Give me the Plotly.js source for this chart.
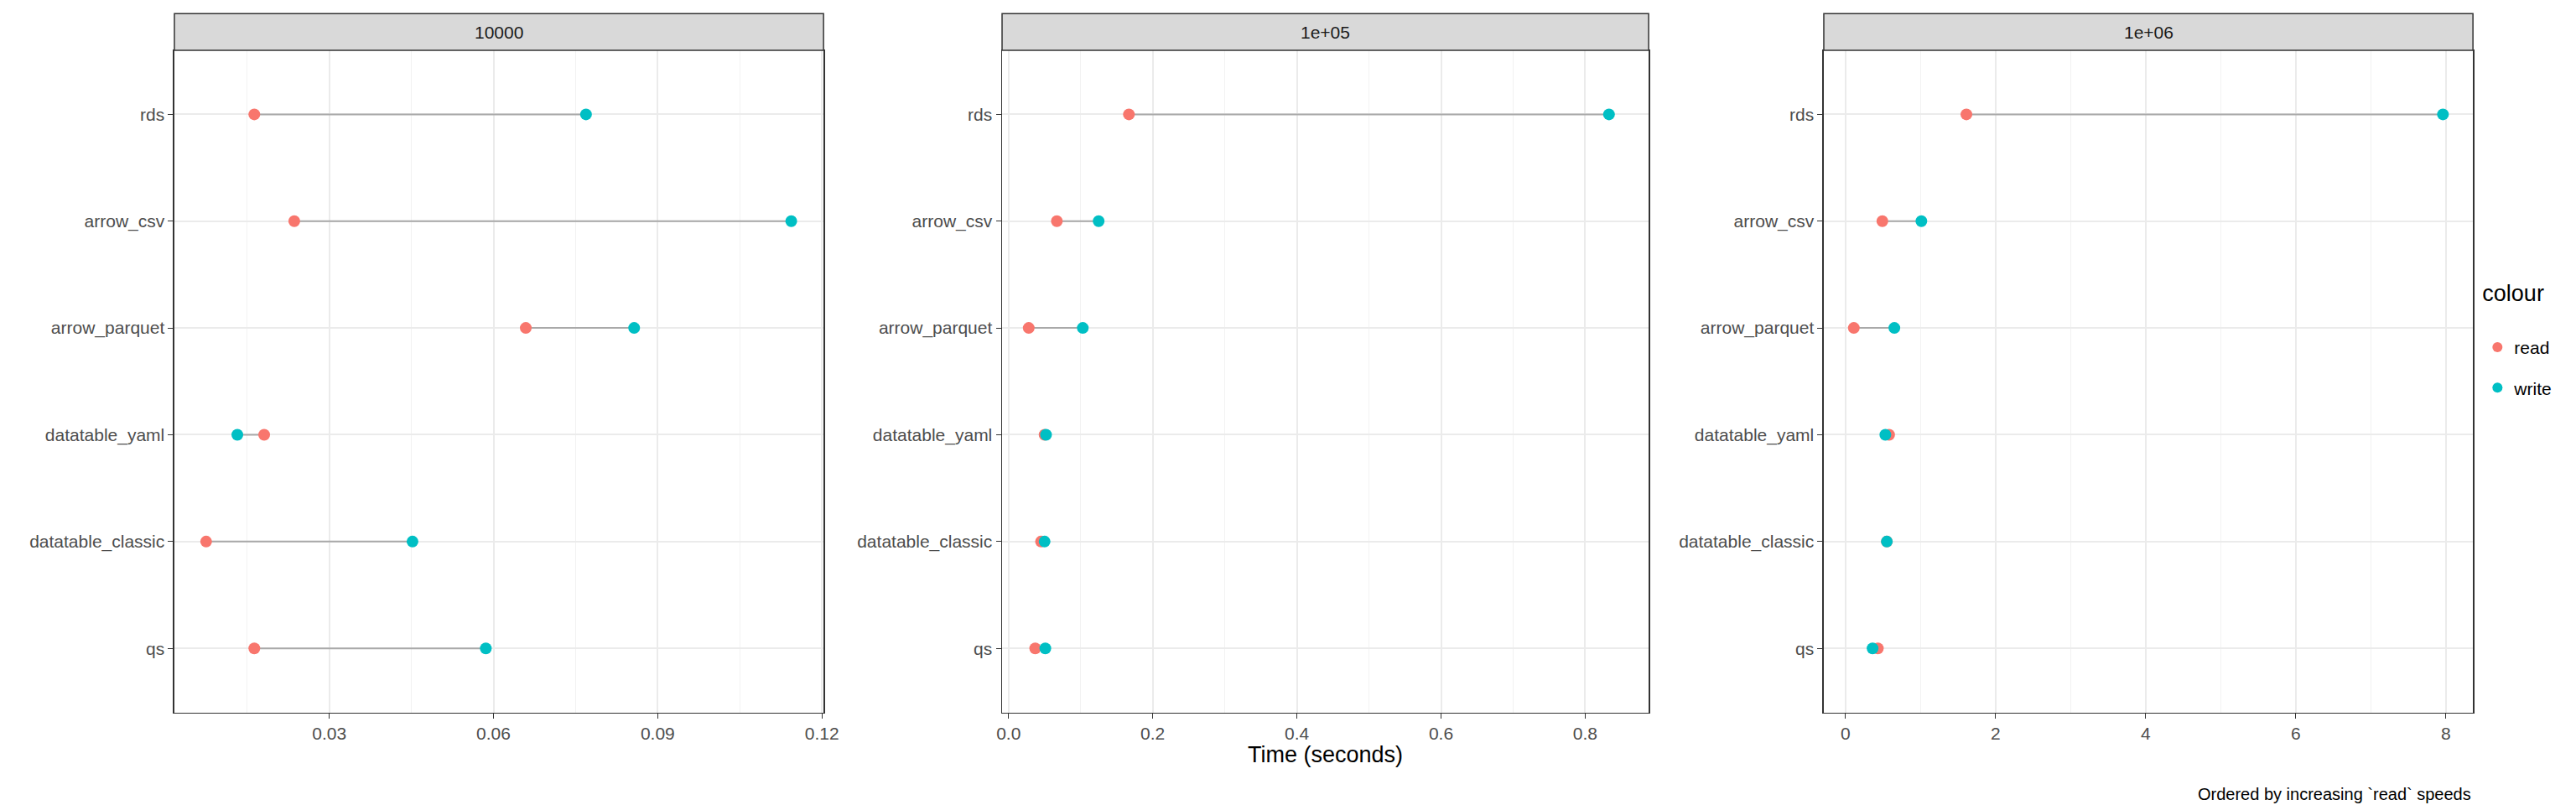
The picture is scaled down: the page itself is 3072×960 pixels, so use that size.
<!DOCTYPE html>
<html>
<head>
<meta charset="utf-8">
<script src="https://cdn.plot.ly/plotly-3.0.1.min.js"></script>
<style>body{margin:0;background:#fff}</style>
</head>
<body>
<div id="chart"></div>
<script>
const formats = ["qs", "datatable_classic", "datatable_yaml", "arrow_parquet", "arrow_csv", "rds"];
const sizes = ["10000", "1e+05", "1e+06"];

// seconds, same order as formats
const read10k  = [0.0163, 0.0075, 0.0181, 0.0659, 0.0236, 0.0163];
const write10k = [0.0586, 0.0452, 0.0132, 0.0857, 0.1144, 0.0769];
const read1e5  = [0.037, 0.045, 0.050, 0.028, 0.067, 0.167];
const write1e5 = [0.051, 0.050, 0.052, 0.103, 0.125, 0.833];
const read1e6  = [0.43, 0.55, 0.58, 0.11, 0.49, 1.61];
const write1e6 = [0.36, 0.55, 0.53, 0.65, 1.01, 7.96];

const reads = [read10k, read1e5, read1e6];
const writes = [write10k, write1e5, write1e6];

const READ = "#F8766D", WRITE = "#00BFC4";
const domains = [[0.0677, 0.3197], [0.389, 0.640], [0.708, 0.960]];
const xranges = [[0.0017, 0.1203], [-0.009, 0.888], [-0.29, 8.36]];
const ticks = [[0.03, 0.06, 0.09, 0.12], [0, 0.2, 0.4, 0.6, 0.8], [0, 2, 4, 6, 8]];
const tickText = [["0.03", "0.06", "0.09", "0.12"], ["0.0", "0.2", "0.4", "0.6", "0.8"], ["0", "2", "4", "6", "8"]];
const minorStep = [0.015, 0.1, 1];
const yBot = 0.115, yTop = 0.9375, stripTop = 0.983;

const traces = [];
const layout = {
  width: 3072, height: 960,
  paper_bgcolor: "#fff", plot_bgcolor: "#fff",
  font: {family: "Liberation Sans, Arial, sans-serif", color: "#4D4D4D", size: 20},
  margin: {l: 0, r: 0, t: 0, b: 0},
  showlegend: true,
  legend: {x: 0.963, y: 0.58, xanchor: "left", yanchor: "middle",
           title: {text: "colour<br> ", font: {size: 27, color: "#000"}},
           font: {size: 21, color: "#000"}, tracegroupgap: 18, itemsizing: "constant"},
  shapes: [], annotations: []
};

for (let p = 0; p < 3; p++) {
  const sfx = p === 0 ? "" : String(p + 1);
  const xa = "x" + sfx, ya = "y" + sfx;
  const lx = [], ly = [];
  formats.forEach((f, i) => { lx.push(reads[p][i], writes[p][i], null); ly.push(f, f, null); });
  traces.push({x: lx, y: ly, xaxis: xa, yaxis: ya, mode: "lines",
               line: {color: "#A9A9A9", width: 2}, showlegend: false, hoverinfo: "skip"});
  traces.push({x: reads[p], y: formats, xaxis: xa, yaxis: ya, mode: "markers", name: "read",
               legendgroup: "read", showlegend: p === 0, marker: {color: READ, size: 14}});
  traces.push({x: writes[p], y: formats, xaxis: xa, yaxis: ya, mode: "markers", name: "write",
               legendgroup: "write", showlegend: p === 0, marker: {color: WRITE, size: 14}});

  layout["xaxis" + sfx] = {
    domain: domains[p], anchor: ya, range: xranges[p],
    tickvals: ticks[p], ticktext: tickText[p], ticks: "outside", ticklen: 6, tickcolor: "#333",
    showgrid: true, gridcolor: "#EBEBEB", gridwidth: 2, zeroline: false,
    minor: {showgrid: true, gridcolor: "#F2F2F2", gridwidth: 1, tick0: 0, dtick: minorStep[p]},
    showline: true, mirror: true, linecolor: "#333", linewidth: 1.5,
    tickfont: {size: 21, color: "#4D4D4D"}
  };
  layout["yaxis" + sfx] = {
    domain: [yBot, yTop], anchor: xa, type: "category", categoryorder: "array",
    categoryarray: formats, range: [-0.6, 5.6],
    ticks: "outside", ticklen: 6, tickcolor: "#333",
    showgrid: true, gridcolor: "#EBEBEB", gridwidth: 2, zeroline: false,
    showline: true, mirror: true, linecolor: "#333", linewidth: 1.5,
    tickfont: {size: 21, color: "#4D4D4D"}
  };
  layout.shapes.push({type: "rect", xref: "paper", yref: "paper",
    x0: domains[p][0], x1: domains[p][1], y0: yTop, y1: stripTop,
    fillcolor: "#D9D9D9", line: {color: "#333", width: 1.5}});
  layout.annotations.push({text: sizes[p], xref: "paper", yref: "paper",
    x: (domains[p][0] + domains[p][1]) / 2, y: (yTop + stripTop) / 2,
    xanchor: "center", yanchor: "middle",
    showarrow: false, font: {size: 21, color: "#1A1A1A"}});
}

layout.annotations.push({text: "Time (seconds)", xref: "paper", yref: "paper",
  x: (domains[1][0] + domains[1][1]) / 2, y: 0.045, showarrow: false,
  font: {size: 27, color: "#000"}});
layout.annotations.push({text: "Ordered by increasing `read` speeds", xref: "paper", yref: "paper",
  x: 0.96, y: 0.0, xanchor: "right", yanchor: "bottom", showarrow: false,
  font: {size: 20, color: "#000"}});

Plotly.newPlot("chart", traces, layout, {staticPlot: true});
</script>
</body>
</html>
